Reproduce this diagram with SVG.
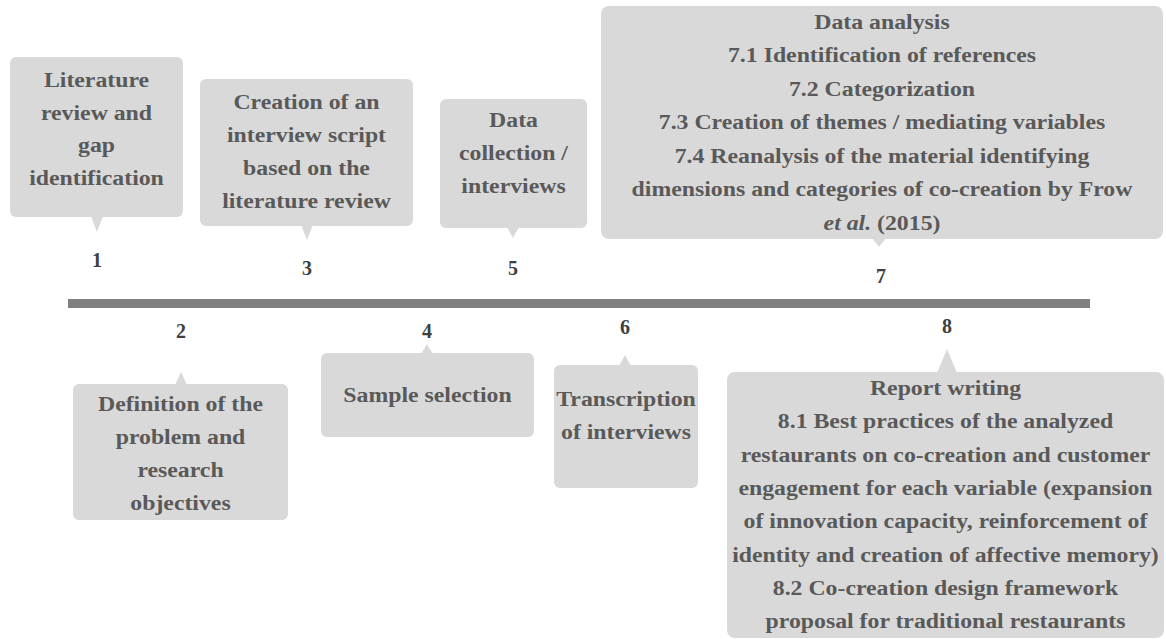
<svg xmlns="http://www.w3.org/2000/svg" width="1166" height="639" viewBox="0 0 1166 639">
  <style>
    .box { fill: #d9d9d9; }
    .t { font-family: "Liberation Serif", "Times New Roman", serif; font-weight: bold; font-size: 20.5px; fill: #595959; text-anchor: middle; }
    .n { font-family: "Liberation Serif", "Times New Roman", serif; font-weight: bold; font-size: 20px; fill: #404040; text-anchor: middle; }
    .bar { fill: #808080; }
  </style>
  <rect width="1166" height="639" fill="#ffffff"/>

  <g id="connectors">
    <rect class="bar" x="68" y="299" width="1022" height="9"/>
  </g>

  <g id="step1">
    <rect class="box" x="10" y="57" width="173" height="160" rx="6"/>
    <polygon class="box" points="91,216 103,216 97,232"/>
    <g transform="matrix(1.16 0 0 1 96.5 0)">
      <text class="t" x="0" y="87">Literature</text>
      <text class="t" x="0" y="120">review and</text>
      <text class="t" x="0" y="152">gap</text>
      <text class="t" x="0" y="185">identification</text>
    </g>
    <text class="n" x="97" y="267">1</text>
  </g>

  <g id="step2">
    <rect class="box" x="73" y="384" width="215" height="136" rx="6"/>
    <polygon class="box" points="175,385 187,385 181,372"/>
    <g transform="matrix(1.16 0 0 1 180.5 0)">
      <text class="t" x="0" y="411">Definition of the</text>
      <text class="t" x="0" y="444">problem and</text>
      <text class="t" x="0" y="477">research</text>
      <text class="t" x="0" y="510">objectives</text>
    </g>
    <text class="n" x="181" y="338">2</text>
  </g>

  <g id="step3">
    <rect class="box" x="200" y="79" width="213" height="147" rx="6"/>
    <polygon class="box" points="301,225 313,225 307,240"/>
    <g transform="matrix(1.16 0 0 1 306.5 0)">
      <text class="t" x="0" y="109">Creation of an</text>
      <text class="t" x="0" y="142">interview script</text>
      <text class="t" x="0" y="175">based on the</text>
      <text class="t" x="0" y="208">literature review</text>
    </g>
    <text class="n" x="307" y="275">3</text>
  </g>

  <g id="step4">
    <rect class="box" x="321" y="353" width="213" height="84" rx="6"/>
    <polygon class="box" points="421,354 433,354 427,344"/>
    <g transform="matrix(1.16 0 0 1 427.5 0)">
      <text class="t" x="0" y="402">Sample selection</text>
    </g>
    <text class="n" x="427" y="338">4</text>
  </g>

  <g id="step5">
    <rect class="box" x="440" y="99" width="147" height="129" rx="6"/>
    <polygon class="box" points="507,227 519,227 513,238"/>
    <g transform="matrix(1.16 0 0 1 513.5 0)">
      <text class="t" x="0" y="127">Data</text>
      <text class="t" x="0" y="160">collection /</text>
      <text class="t" x="0" y="193">interviews</text>
    </g>
    <text class="n" x="513" y="275">5</text>
  </g>

  <g id="step6">
    <rect class="box" x="554" y="365" width="144" height="123" rx="6"/>
    <polygon class="box" points="619,366 631,366 625,355"/>
    <g transform="matrix(1.16 0 0 1 626 0)">
      <text class="t" x="0" y="406">Transcription</text>
      <text class="t" x="0" y="439">of interviews</text>
    </g>
    <text class="n" x="625" y="334">6</text>
  </g>

  <g id="step7">
    <rect class="box" x="601" y="6" width="562" height="233" rx="8"/>
    <polygon class="box" points="872,238 886,238 879,247"/>
    <g transform="matrix(1.16 0 0 1 882 0)">
      <text class="t" x="0" y="29">Data analysis</text>
      <text class="t" x="0" y="62.5">7.1 Identification of references</text>
      <text class="t" x="0" y="96">7.2 Categorization</text>
      <text class="t" x="0" y="129.5">7.3 Creation of themes / mediating variables</text>
      <text class="t" x="0" y="163">7.4 Reanalysis of the material identifying</text>
      <text class="t" x="0" y="196.5">dimensions and categories of co-creation by Frow</text>
      <text class="t" x="0" y="230"><tspan font-style="italic">et al.</tspan> (2015)</text>
    </g>
    <text class="n" x="881" y="283">7</text>
  </g>

  <g id="step8">
    <rect class="box" x="727" y="372" width="437" height="266" rx="8"/>
    <polygon class="box" points="937,373 957,373 947,349"/>
    <g transform="matrix(1.16 0 0 1 945.5 0)">
      <text class="t" x="0" y="395">Report writing</text>
      <text class="t" x="0" y="428">8.1 Best practices of the analyzed</text>
      <text class="t" x="0" y="462">restaurants on co-creation and customer</text>
      <text class="t" x="0" y="495">engagement for each variable (expansion</text>
      <text class="t" x="0" y="528">of innovation capacity, reinforcement of</text>
      <text class="t" x="0" y="562">identity and creation of affective memory)</text>
      <text class="t" x="0" y="595">8.2 Co-creation design framework</text>
      <text class="t" x="0" y="628">proposal for traditional restaurants</text>
    </g>
    <text class="n" x="947" y="333">8</text>
  </g>
</svg>
